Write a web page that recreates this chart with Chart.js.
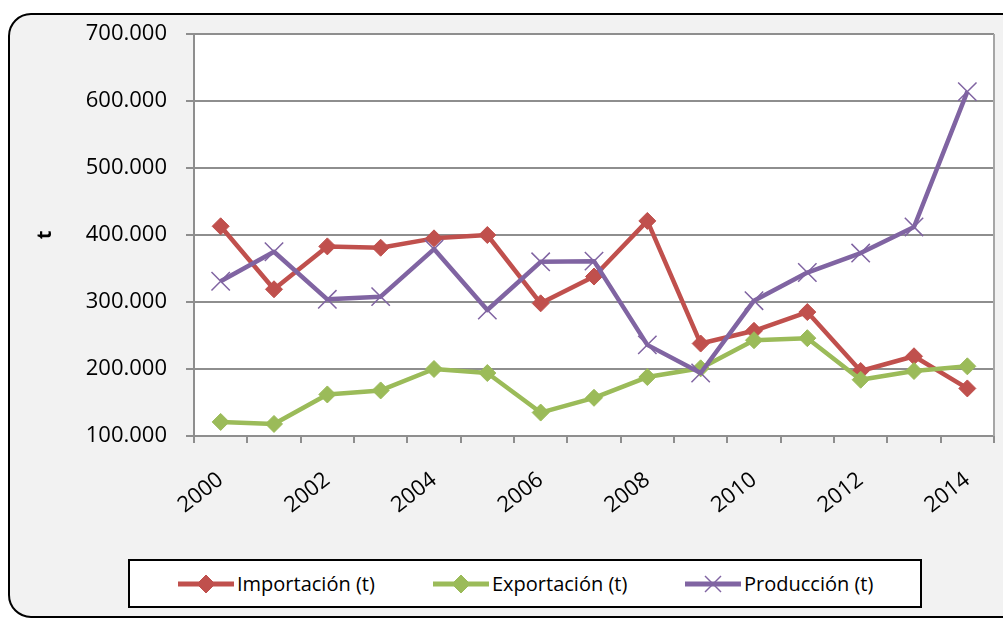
<!DOCTYPE html>
<html>
<head>
<meta charset="utf-8">
<script src="https://cdn.jsdelivr.net/npm/chart.js@4"></script>
<style>
  html, body { margin: 0; padding: 0; background: #ffffff; }
  #wrap { position: relative; width: 1003px; height: 619px; overflow: hidden; }
  #c { position: absolute; left: 0; top: 0; }
  #legend {
    position: absolute; left: 128px; top: 559px; width: 790px; height: 45px;
    border: 2px solid #000; background: #fff; box-sizing: content-box;
    font-family: "Open Sans", sans-serif; font-size: 20px; color: #000;
  }
  .item { position: absolute; top: 0; height: 45px; display: flex; align-items: center; white-space: nowrap; }
  .item svg { margin-right: 3px; }
</style>
</head>
<body>
<div id="wrap">
  <canvas id="c" width="1003" height="619"></canvas>
  <div id="legend"></div>
</div>
<script>
const years = ['2000','2001','2002','2003','2004','2005','2006','2007','2008','2009','2010','2011','2012','2013','2014'];
const importacion = [413000, 319000, 383000, 381000, 395000, 400000, 298000, 338000, 421000, 238000, 257000, 285000, 197000, 219000, 171000];
const exportacion = [121000, 118000, 162000, 168000, 200000, 194000, 135000, 157000, 188000, 201000, 243000, 246000, 184000, 197000, 204000];
const produccion  = [331000, 375000, 304000, 308000, 379000, 288000, 360000, 361000, 236000, 194000, 302000, 344000, 373000, 412000, 614000];
const seriesNames = ['Importación (t)', 'Exportación (t)', 'Producción (t)'];
const seriesColors = ['#C0504D', '#9BBB59', '#8064A2'];
const yTicks = [100000, 200000, 300000, 400000, 500000, 600000, 700000];
const yTitle = 't';

const FONT = '"Open Sans", sans-serif';

const bgPlugin = {
  id: 'bg',
  beforeDraw(chart) {
    const ctx = chart.ctx;
    const a = chart.chartArea;
    ctx.save();
    ctx.fillStyle = '#ffffff';
    ctx.fillRect(0, 0, chart.width, chart.height);
    const x = 9, y = 14, w = 1003 + 20 - 9, h = 617 - 14, r = 22;
    ctx.beginPath();
    ctx.moveTo(x + r, y);
    ctx.lineTo(x + w - r, y);
    ctx.arcTo(x + w, y, x + w, y + r, r);
    ctx.lineTo(x + w, y + h - r);
    ctx.arcTo(x + w, y + h, x + w - r, y + h, r);
    ctx.lineTo(x + r, y + h);
    ctx.arcTo(x, y + h, x, y + h - r, r);
    ctx.lineTo(x, y + r);
    ctx.arcTo(x, y, x + r, y, r);
    ctx.closePath();
    ctx.fillStyle = '#f2f2f2';
    ctx.fill();
    ctx.lineWidth = 2;
    ctx.strokeStyle = '#000000';
    ctx.stroke();
    ctx.fillStyle = '#ffffff';
    ctx.fillRect(a.left, a.top, a.right - a.left, a.bottom - a.top);
    ctx.restore();
  },
  beforeDatasetsDraw(chart) {
    const ctx = chart.ctx;
    const a = chart.chartArea;
    ctx.save();
    ctx.strokeStyle = '#a6a6a6';
    ctx.lineWidth = 2;
    ctx.beginPath();
    ctx.moveTo(a.right, a.top);
    ctx.lineTo(a.right, a.bottom);
    ctx.stroke();
    ctx.restore();
  }
};

function ds(label, data, color, style, radius, bw, order) {
  return {
    label, data, order,
    borderColor: color,
    backgroundColor: color,
    borderWidth: 4.5,
    borderJoinStyle: 'round',
    pointStyle: style,
    pointRadius: radius,
    pointHoverRadius: radius,
    pointBorderWidth: bw,
    pointBorderColor: color,
    pointBackgroundColor: color,
    tension: 0,
    fill: false
  };
}

new Chart(document.getElementById('c'), {
  type: 'line',
  data: {
    labels: years,
    datasets: [
      ds(seriesNames[0], importacion, seriesColors[0], 'rectRot', 8.5, 1, 3),
      ds(seriesNames[1], exportacion, seriesColors[1], 'rectRot', 8.5, 1, 2),
      ds(seriesNames[2], produccion, seriesColors[2], 'crossRot', 13, 1.5, 1)
    ]
  },
  options: {
    responsive: false,
    animation: false,
    events: [],
    layout: { autoPadding: false, padding: { left: 0, top: 34, right: 9, bottom: 0 } },
    plugins: { legend: { display: false }, tooltip: { enabled: false } },
    scales: {
      x: {
        type: 'category',
        offset: true,
        grid: { offset: true, drawOnChartArea: false, drawTicks: true, tickLength: 7, color: '#8e8e8e', lineWidth: 2 },
        border: { display: true, color: '#8e8e8e', width: 2 },
        ticks: {
          autoSkip: false,
          maxRotation: 38, minRotation: 38,
          padding: 24,
          color: '#000',
          font: { family: FONT, size: 22 },
          callback: function (v, i) { return i % 2 === 0 ? years[i] : ''; }
        },
        afterFit(scale) { scale.height = 619 - 436; scale.paddingRight = 0; scale.paddingLeft = 0; }
      },
      y: {
        min: yTicks[0], max: yTicks[yTicks.length - 1],
        afterBuildTicks(scale) { scale.ticks = yTicks.map(v => ({ value: v })); },
        grid: { color: '#8e8e8e', lineWidth: 2, drawTicks: true, tickLength: 8 },
        border: { display: true, color: '#8e8e8e', width: 2 },
        ticks: {
          padding: 19,
          color: '#000',
          font: { family: FONT, size: 22 },
          callback: v => v.toLocaleString('de-DE', { minimumFractionDigits: 0 }).replace(/,/g, '.')
        },
        title: {
          display: true, text: yTitle, color: '#000',
          font: { family: FONT, size: 20, weight: 'bold' },
          padding: { top: 33, bottom: 0 }
        },
        afterFit(scale) { scale.width = 194; scale.paddingTop = 0; scale.paddingBottom = 0; }
      }
    }
  },
  plugins: [bgPlugin]
});

const legend = document.getElementById('legend');
const lefts = [48, 303, 555];
seriesNames.forEach((name, i) => {
  const item = document.createElement('div');
  item.className = 'item';
  item.style.left = lefts[i] + 'px';
  const c = seriesColors[i];
  let marker;
  if (i < 2) {
    marker = `<polygon points="28,3 37,12 28,21 19,12" fill="${c}" stroke="${c}" stroke-width="1"/>`;
  } else {
    marker = `<line x1="20" y1="4" x2="36" y2="20" stroke="${c}" stroke-width="1.5"/><line x1="36" y1="4" x2="20" y2="20" stroke="${c}" stroke-width="1.5"/>`;
  }
  item.innerHTML = `<svg width="56" height="24" viewBox="0 0 56 24"><line x1="0" y1="12" x2="56" y2="12" stroke="${c}" stroke-width="5"/>${marker}</svg><span>${name}</span>`;
  legend.appendChild(item);
});
</script>
</body>
</html>
